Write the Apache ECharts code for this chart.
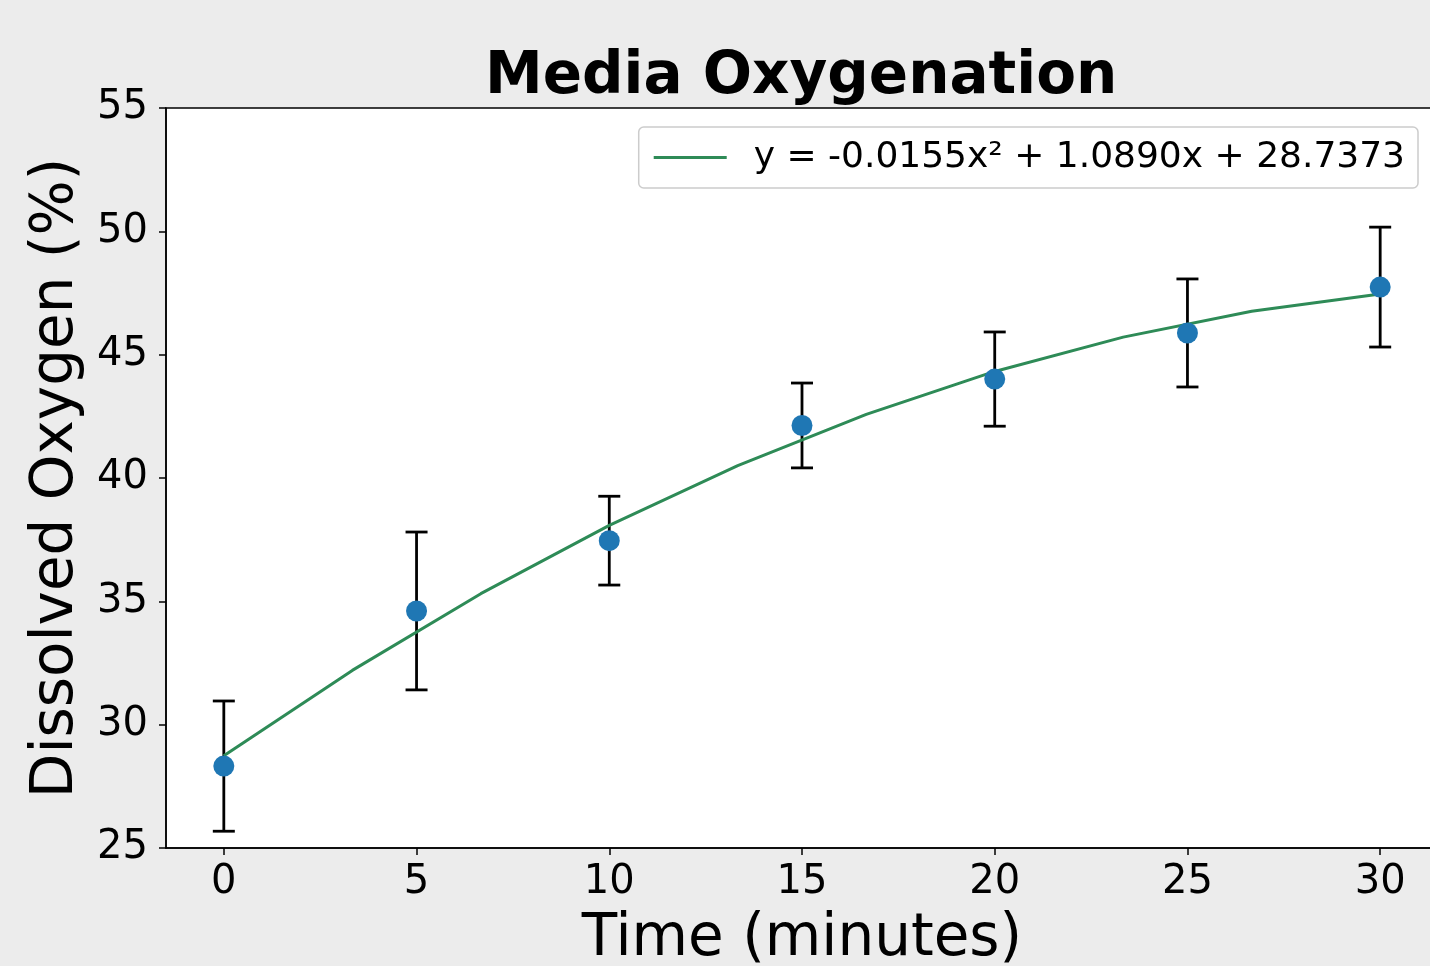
<!DOCTYPE html>
<html>
<head>
<meta charset="utf-8">
<script src="https://cdn.jsdelivr.net/npm/echarts@6/dist/echarts.min.js"></script>
<style>
html,body{margin:0;padding:0;background:#ececec;}
#chart{width:1430px;height:966px;}
</style>
</head>
<body>
<div id="chart"></div>
<script>
const times = [0, 5, 10, 15, 20, 25, 30];
const meanDO = [28.32, 34.61, 37.46, 42.13, 44.01, 45.88, 47.74];
const errDO = [2.64, 3.20, 1.80, 1.72, 1.91, 2.19, 2.43];
const fitX = [0, 3.333, 6.667, 10, 13.333, 16.667, 20, 23.333, 26.667, 30];
const fitY = [28.74, 32.20, 35.31, 38.08, 40.50, 42.58, 44.32, 45.71, 46.76, 47.46];
const xTicks = [0, 5, 10, 15, 20, 25, 30];
const yTicks = [25, 30, 35, 40, 45, 50, 55];
const fitLabel = 'y = -0.0155x² + 1.0890x + 28.7373';

const font = 'DejaVu Sans';
const chart = echarts.init(document.getElementById('chart'));
const points = times.map((t, i) => [t, meanDO[i]]);
const bars = times.map((t, i) => [t, meanDO[i] - errDO[i], meanDO[i] + errDO[i]]);
const fitLine = fitX.map((x, i) => [x, fitY[i]]);

chart.setOption({
  backgroundColor: '#ececec',
  animation: false,
  title: {
    text: 'Media Oxygenation',
    left: 485,
    top: 49,
    padding: 0,
    textStyle: {fontFamily: font, fontWeight: 'bold', fontSize: 58, color: '#000'}
  },
  grid: {
    left: 166, top: 108, height: 740, width: 1272,
    outerBoundsMode: 'none',
    containLabel: false,
    show: true, backgroundColor: '#ffffff', borderColor: '#000', borderWidth: 1.5
  },
  legend: {
    right: 12, top: 127,
    data: [{name: fitLabel, icon: 'rect'}],
    itemWidth: 73, itemHeight: 3,
    padding: [10, 13, 10, 15],
    backgroundColor: '#ffffff',
    borderColor: '#cccccc', borderWidth: 1.5, borderRadius: 5,
    textStyle: {fontFamily: font, fontSize: 36, color: '#000', lineHeight: 41, padding: [0, 0, 0, 22]}
  },
  xAxis: {
    type: 'value', min: -1.5, max: 31.5,
    name: 'Time (minutes)', nameLocation: 'middle', nameGap: 63,
    nameTextStyle: {fontFamily: font, fontSize: 58, color: '#000'},
    splitLine: {show: false},
    axisLine: {show: true, onZero: false, lineStyle: {color: '#000', width: 1.5}},
    axisTick: {show: true, length: 7, lineStyle: {color: '#000', width: 1.5}, customValues: xTicks},
    axisLabel: {fontFamily: font, fontSize: 40, color: '#000', margin: 15, customValues: xTicks}
  },
  yAxis: {
    type: 'value', min: 25, max: 55, interval: 5,
    name: 'Dissolved Oxygen (%)', nameLocation: 'middle', nameGap: 68,
    nameTextStyle: {fontFamily: font, fontSize: 58, color: '#000'},
    splitLine: {show: false},
    axisLine: {show: true, onZero: false, lineStyle: {color: '#000', width: 1.5}},
    axisTick: {show: true, length: 7, lineStyle: {color: '#000', width: 1.5}, customValues: yTicks},
    axisLabel: {fontFamily: font, fontSize: 40, color: '#000', margin: 18, customValues: yTicks}
  },
  series: [
    {
      type: 'custom',
      name: 'error',
      z: 1,
      data: bars,
      renderItem: function (params, api) {
        const x = api.value(0);
        const lo = api.coord([x, api.value(1)]);
        const hi = api.coord([x, api.value(2)]);
        const cap = 11;
        const st = {stroke: '#000', lineWidth: 2.8};
        return {
          type: 'group',
          children: [
            {type: 'line', shape: {x1: lo[0], y1: lo[1], x2: hi[0], y2: hi[1]}, style: st},
            {type: 'line', shape: {x1: lo[0] - cap, y1: lo[1], x2: lo[0] + cap, y2: lo[1]}, style: st},
            {type: 'line', shape: {x1: hi[0] - cap, y1: hi[1], x2: hi[0] + cap, y2: hi[1]}, style: st}
          ]
        };
      },
      silent: true
    },
    {
      type: 'line',
      name: fitLabel,
      z: 2,
      data: fitLine,
      symbol: 'none',
      showSymbol: false,
      color: '#2e8b57',
      lineStyle: {color: '#2e8b57', width: 3}
    },
    {
      type: 'scatter',
      name: 'data',
      z: 3,
      data: points,
      symbolSize: 21,
      itemStyle: {color: '#1f77b4', opacity: 1}
    }
  ]
});
</script>
</body>
</html>
